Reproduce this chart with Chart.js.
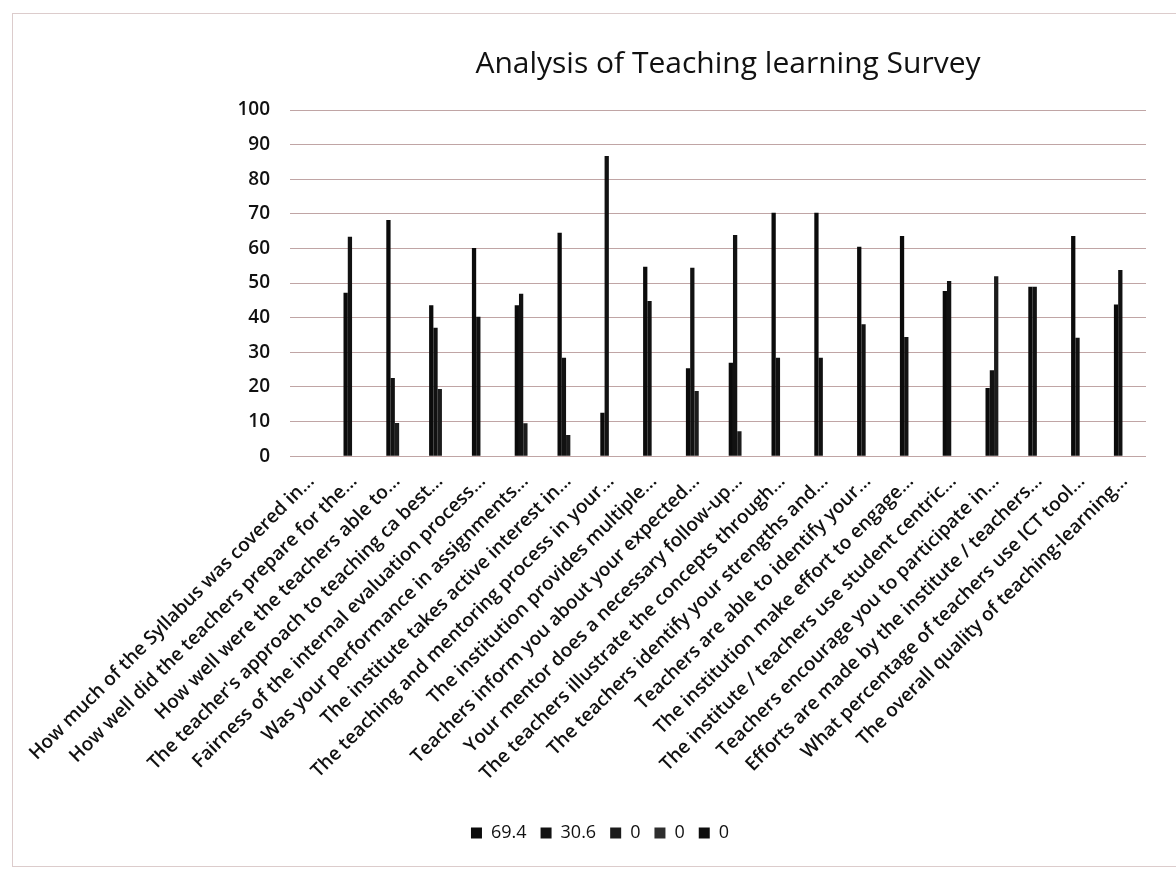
<!DOCTYPE html>
<html>
<head>
<meta charset="utf-8">
<title>Analysis of Teaching learning Survey</title>
<script src="https://cdn.jsdelivr.net/npm/chart.js@4.4.1/dist/chart.umd.min.js"></script>
<style>
  html, body { margin: 0; padding: 0; background: #fff; overflow: hidden; }
  #frame { position: absolute; left: 12px; top: 13px; width: 1200px; height: 854px;
           border: 1px solid #dccccc; box-sizing: border-box; }
  #myChart { position: absolute; left: 0; top: 0; }
</style>
</head>
<body>
<div id="frame"></div>
<canvas id="myChart" width="1176" height="870"></canvas>
<script>
// question labels (as truncated in the original sheet)
var questions = [
  "How much of the Syllabus was covered in...",
  "How well did the teachers prepare for the...",
  "How well were the teachers able to...",
  "The teacher's approach to teaching ca best...",
  "Fairness of the internal evaluation process...",
  "Was your performance in assignments...",
  "The institute takes active interest in...",
  "The teaching and mentoring process in your...",
  "The institution provides multiple...",
  "Teachers inform you about your expected...",
  "Your mentor does a necessary follow-up...",
  "The teachers illustrate the concepts through...",
  "The teachers identify your strengths and...",
  "Teachers are able to identify your...",
  "The institution make effort to engage...",
  "The institute / teachers use student centric...",
  "Teachers encourage you to participate in...",
  "Efforts are made by the institute / teachers...",
  "What percentage of teachers use ICT tool...",
  "The overall quality of teaching-learning..."
];

// series names came from the first data row
var seriesNames = ["69.4", "30.6", "0", "0", "0"];

// values (percent)
var serie1 = [0, 47.2, 68.2, 43.6, 60.1, 43.6, 64.5, 12.5, 54.7, 25.4, 27.0, 70.3, 70.3, 60.5, 63.6, 47.7, 19.7, 48.9, 63.6, 43.8];
var serie2 = [0, 63.4, 22.6, 37.1, 40.3, 46.9, 28.4, 86.7, 44.8, 54.4, 63.9, 28.4, 28.4, 38.1, 34.4, 50.6, 24.8, 48.9, 34.2, 53.8];
var serie3 = [0, 0, 9.6, 19.4, 0, 9.5, 6.1, 0, 0, 18.8, 7.2, 0, 0, 0, 0, 0, 52.0, 0, 0, 0];
var serie4 = [0, 0, 0, 0, 0, 0, 0, 0, 0, 0, 0, 0, 0, 0, 0, 0, 0, 0, 0, 0];
var serie5 = [0, 0, 0, 0, 0, 0, 0, 0, 0, 0, 0, 0, 0, 0, 0, 0, 0, 0, 0, 0];

var yTicks = [0, 10, 20, 30, 40, 50, 60, 70, 80, 90, 100];

var cores = ['#0b0b0b', '#121212', '#1c1c1c', '#2e2e2e', '#0e0e0e'];
var todas = [serie1, serie2, serie3, serie4, serie5];

var datasets = [];
for (var i = 0; i < todas.length; i++) {
  datasets.push({
    label: seriesNames[i],
    data: todas[i],
    backgroundColor: cores[i],
    borderWidth: 0,
    categoryPercentage: 0.5,
    barPercentage: 1.0
  });
}

// center the title over the plot area, like the spreadsheet does
var tituloNoCentro = {
  id: 'tituloNoCentro',
  afterLayout: function (chart) {
    if (chart.titleBlock) {
      chart.titleBlock.left = chart.chartArea.left;
      chart.titleBlock.right = chart.chartArea.right + 20;
    }
  }
};

var fonte = "'Open Sans', 'DejaVu Sans', sans-serif";

var ctx = document.getElementById('myChart').getContext('2d');
var chart = new Chart(ctx, {
  type: 'bar',
  data: {
    labels: questions,
    datasets: datasets
  },
  plugins: [tituloNoCentro],
  options: {
    responsive: false,
    animation: false,
    layout: { padding: { left: 54, right: 30, top: 0, bottom: 18 } },
    plugins: {
      title: {
        display: true,
        text: 'Analysis of Teaching learning Survey',
        color: '#111',
        font: { family: fonte, size: 30, weight: 'normal' },
        padding: { top: 46, bottom: 28 }
      },
      legend: {
        position: 'bottom',
        labels: {
          color: '#111',
          font: { family: fonte, size: 18 },
          boxWidth: 11,
          boxHeight: 11,
          padding: 14
        }
      },
      tooltip: { enabled: false }
    },
    scales: {
      x: {
        grid: { display: false },
        border: { display: false },
        afterFit: function (scale) { scale.height += 19; },
        ticks: {
          color: '#111',
          font: { family: fonte, size: 19, weight: '600' },
          autoSkip: false,
          minRotation: 45,
          maxRotation: 45,
          padding: 6
        }
      },
      y: {
        min: 0,
        max: 100,
        afterFit: function (scale) { scale.width = 236; },
        afterBuildTicks: function (scale) {
          scale.ticks = yTicks.map(function (v) { return { value: v }; });
        },
        grid: { color: 'rgba(150, 105, 105, 0.6)', drawTicks: false, lineWidth: 1 },
        border: { display: false },
        ticks: {
          color: '#111',
          font: { family: fonte, size: 19, weight: '600' },
          padding: 20
        }
      }
    }
  }
});
</script>
</body>
</html>
